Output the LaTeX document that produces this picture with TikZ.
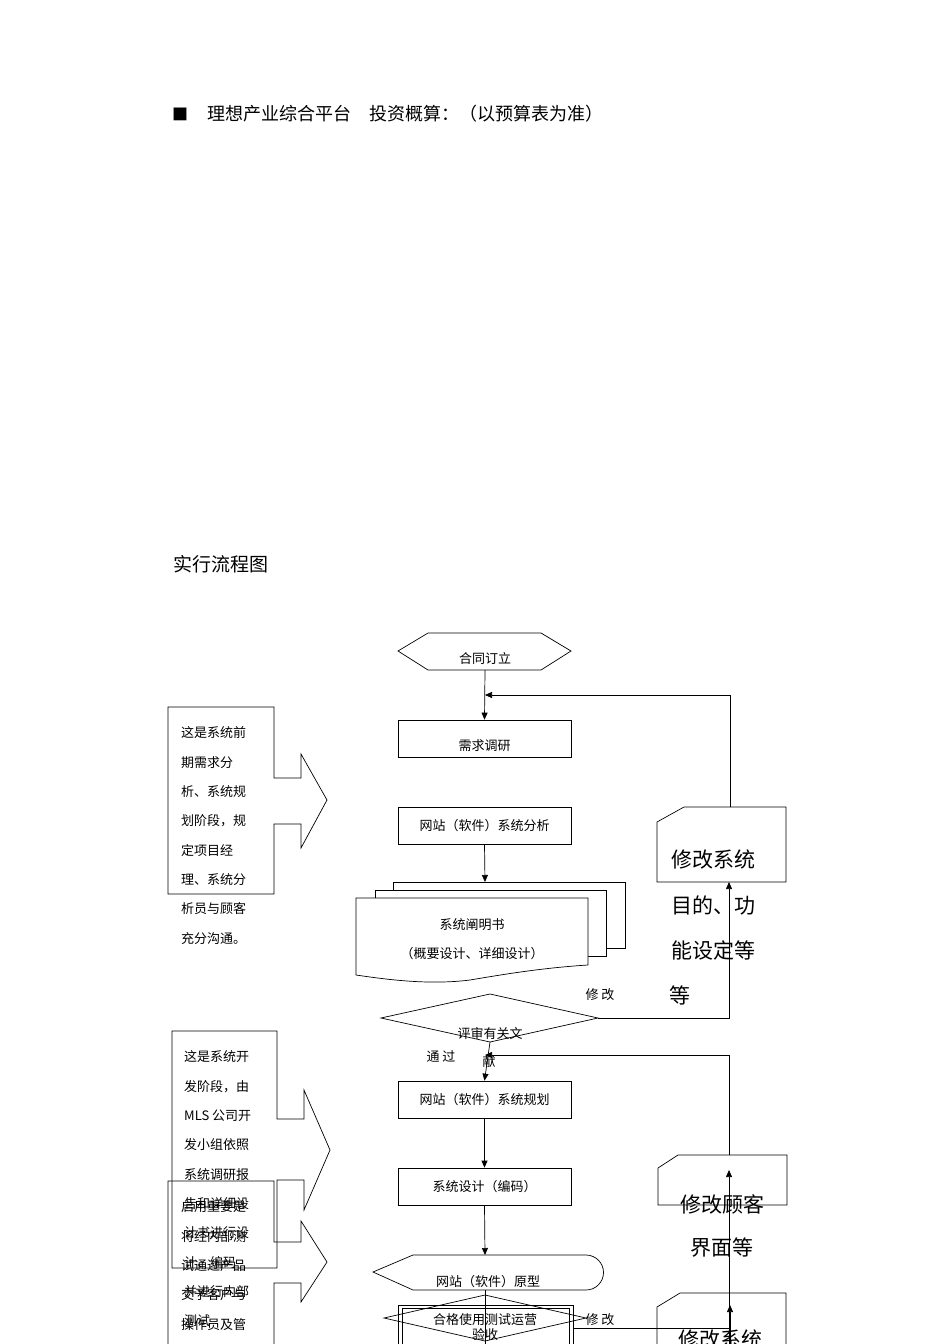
\documentclass[tikz,border=0pt]{standalone}
\usepackage{fontspec}
\setmainfont{Noto Sans CJK SC}
\usetikzlibrary{arrows.meta}
\begin{document}
\begin{tikzpicture}[x=1pt,y=-1pt,
  line/.style={draw,line width=0.7pt},
  arr/.style={line,-{Triangle[length=7pt,width=6pt]}},
  lbl/.style={font=\fontsize{13}{15}\selectfont,inner sep=0pt},
  big/.style={font=\fontsize{21}{24}\selectfont,inner sep=0pt},
  boxn/.style={line,minimum width=173pt,minimum height=37pt,inner sep=0pt,font=\fontsize{13}{15}\selectfont}]
\useasboundingbox (0,0) rectangle (950,1344);
\clip (0,0) rectangle (950,1344);
\node[inner sep=0pt,font=\fontsize{16}{18}\selectfont] (sq) at (180,114) {■};
\node[inner sep=0pt,anchor=west,font=\fontsize{18}{20}\selectfont] (hd) at (207,114) {理想产业综合平台\quad 投资概算：（以预算表为准）};
\node[inner sep=0pt,anchor=west,font=\fontsize{19}{21}\selectfont] (tt) at (173,564) {实行流程图};
% hexagon
\draw[line] (398,651)--(428,633)--(541,633)--(571,651)--(541,670)--(428,670)--cycle;
\node[lbl] (hex) at (485,659) {合同订立};
\coordinate (hexb) at (485,670);
\node[boxn] (req) at (484.5,738.5) {};
\node[lbl] at (484.5,746) {需求调研};
\node[boxn] (ana) at (484.5,825.5) {网站（软件）系统分析};
\draw[arr] (hexb)--(req.north);
\draw[arr] (ana.south)--(485,882);
% document stack
\draw[line,fill=white] (393,882) rectangle (625,948);
\draw[line,fill=white] (375,890) rectangle (606,956);
\draw[line,fill=white] (356,898)--(588,898)--(588,965) .. controls (540,968) and (500,975) .. (470,980) .. controls (430,985) and (390,980) .. (356,975)--cycle;
\node[lbl] (doc) at (472,925) {系统阐明书};
\node[lbl] at (472,954) {（概要设计、详细设计）};
% diamond 1
\draw[line] (381,1018)--(490,994)--(598,1018)--(490,1042)--cycle;
\node[lbl] (d1) at (490,1033) {评审有关文};
\node[lbl] at (489,1062) {献};
\node[lbl] (m1) at (600,995) {修 改};
\node[lbl] (pass) at (441,1057) {通 过};
% card 1
\draw[line] (684,807)--(786,807)--(786,882)--(657,882)--(657,822)--cycle;
\coordinate (c1b) at (729,882);
\node[big] (c1) at (713,860) {修改系统};
\node[big] at (713,905) {目的、功};
\node[big] at (713,950) {能设定等};
\node[big] at (680,995) {等};
\draw[arr] (598,1018)--(729,1018)--(c1b);
\draw[arr] (730,807)--(730,695)--(485,695);
% second part
\node[boxn] (plan) at (484.5,1099.5) {网站（软件）系统规划};
\node[boxn] (code) at (484.5,1186.5) {系统设计（编码）};
\draw[arr] (490,1042)--(plan.north);
\draw[arr] (plan.south)--(code.north);
\draw[arr] (729,1155)--(729,1055)--(485,1055);
% card 2
\draw[line] (678,1155)--(787,1155)--(787,1205)--(658,1205)--(658,1168)--cycle;
\node[big] (c2) at (722,1204) {修改顾客};
\node[big] at (722,1248) {界面等};
% prototype shape
\draw[line,fill=white] (373,1272)--(413,1255)--(586,1255) arc (-90:90:17.5)--(413,1290)--cycle;
\node[lbl] (proto) at (488,1282) {网站（软件）原型};
\draw[arr] (code.south)--(485,1255);
% bottom
\draw[line] (398,1305) rectangle (573,1350);
\draw[line] (402,1308) rectangle (569,1350);
\draw[line] (384,1318)--(485,1295)--(586,1318)--(485,1341)--cycle;
\node[lbl] (acc) at (485,1320) {合格使用测试运营};
\node[lbl] at (485,1335) {验收};
\draw[line] (485,1290)--(485,1344);
\node[lbl] (m2) at (600,1320) {修 改};
\draw[line] (573,1328)--(729,1328);
\draw[arr] (729,1344)--(729,1170);
% card 3
\draw[line] (680,1293)--(786,1293)--(786,1350)--(657,1350)--(657,1307)--cycle;
\node[big] (c3) at (720,1340) {修改系统};
\draw[arr] (730,1344)--(730,1305);
% left callouts
\draw[line] (274,707)--(168,707)--(168,894)--(274,894)--(274,824)--(301,824)--(301,848)--(327,800)--(301,754)--(301,778)--(274,778)--cycle;
\foreach \t [count=\i] in {这是系统前,期需求分,析、系统规,划阶段，规,定项目经,理、系统分,析员与顾客,充分沟通。}
  \node[lbl,anchor=west] at (181,{733+29.3*(\i-1)}) {\t};
\draw[line] (277,1031)--(172,1031)--(172,1268)--(277,1268)--(277,1180)--(304,1180)--(304,1210)--(330,1150)--(304,1090)--(304,1119)--(277,1119)--cycle;
\foreach \t [count=\i] in {这是系统开,发阶段，由,MLS 公司开,发小组依照,系统调研报,告和详细设,计书进行设,计、编码,并进行内部,测试}
  \node[lbl,anchor=west] at (184,{1057+29.3*(\i-1)}) {\t};
\draw[line] (274,1181)--(168,1181)--(168,1350)--(274,1350)--(274,1283)--(301,1283)--(301,1302)--(327,1262)--(301,1221)--(301,1242)--(274,1242)--cycle;
\foreach \t [count=\i] in {启用重要是,将经内部测,试通过产品,交予客户与,操作员及管}
  \node[lbl,anchor=west] at (181,{1207+29.3*(\i-1)}) {\t};
\end{tikzpicture}
\end{document}
